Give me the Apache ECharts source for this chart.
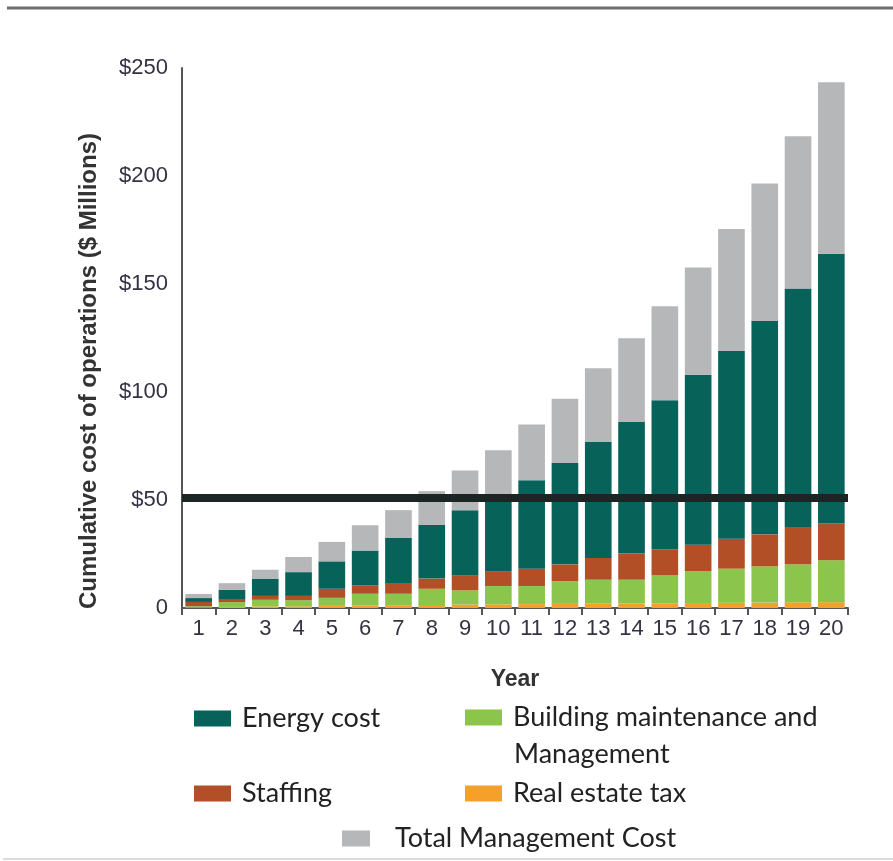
<!DOCTYPE html>
<html>
<head>
<meta charset="utf-8">
<title>Cumulative cost of operations</title>
<script src="https://cdn.jsdelivr.net/npm/echarts@6/dist/echarts.min.js"></script>
<style>
  html, body { margin: 0; padding: 0; background: #fff; }
  #chart { width: 893px; height: 861px; }
</style>
</head>
<body>
<div id="chart"></div>
<script>
const years = ['1', '2', '3', '4', '5', '6', '7', '8', '9', '10',
  '11', '12', '13', '14', '15', '16', '17', '18', '19', '20']

// $ millions, one stacked segment per year (bottom to top)
const realEstateTax = [0.3, 0.5, 0.7, 0.8, 1.0, 1.2, 1.3, 1.4, 1.6, 1.7,
  1.8, 1.9, 2.0, 2.1, 2.2, 2.3, 2.4, 2.5, 2.6, 2.7]
const maintenance = [0.5, 2.2, 3.1, 2.8, 3.7, 5.4, 5.3, 7.5, 6.6, 8.5,
  8.4, 10.5, 11.1, 11.0, 12.9, 14.8, 15.8, 16.8, 17.6, 19.4]
const staffing = [2.0, 1.1, 1.8, 2.0, 4.2, 3.8, 5.0, 4.7, 6.9, 6.9,
  8.0, 7.8, 10.1, 12.1, 12.1, 12.2, 13.9, 14.8, 17.0, 17.0]
const energyCost = [1.8, 4.6, 8.0, 11.0, 12.7, 16.2, 20.8, 24.9, 30.1, 33.4,
  40.9, 46.9, 53.7, 60.9, 69.0, 78.7, 86.9, 98.8, 110.7, 124.9]
const totalMgmt = [1.9, 3.1, 4.1, 7.0, 9.0, 11.7, 12.9, 15.6, 18.5, 22.5,
  25.8, 29.8, 34.1, 38.8, 43.5, 49.6, 56.5, 63.6, 70.5, 79.4]

const budgetLine = 51

const NAME_ENERGY = 'Energy cost'
const NAME_MAINT = 'Building maintenance and Management'
const NAME_STAFF = 'Staffing'
const NAME_TAX = 'Real estate tax'
const NAME_TOTAL = 'Total Management Cost'

const legendFont = 'Lato, "Open Sans", sans-serif'
const axisFont = '"Liberation Sans", Arial, sans-serif'

const legendItem = (name, left, top, width, gap) => ({
  data: [name],
  left,
  top,
  padding: 0,
  orient: 'horizontal',
  icon: 'rect',
  itemWidth: width || 37,
  itemHeight: 16,
  selectedMode: false,
  textStyle: {
    fontFamily: legendFont,
    fontSize: 27,
    color: '#222',
    padding: [0, 0, 0, gap || 6]
  }
})

const barSeries = (name, data, color) => ({
  name,
  type: 'bar',
  stack: 'cost',
  data,
  barWidth: '80%',
  itemStyle: { color },
  emphasis: { disabled: true }
})

const chart = echarts.init(document.getElementById('chart'))

// second line of this legend label is drawn as a graphic below
const maintLegend = legendItem(NAME_MAINT, 465, 704)
maintLegend.formatter = () => 'Building maintenance and'

chart.setOption({
  animation: false,
  grid: { left: 182, right: 45, top: 68, bottom: 253 },
  legend: [
    legendItem(NAME_ENERGY, 194, 705),
    maintLegend,
    legendItem(NAME_STAFF, 194, 780),
    legendItem(NAME_TAX, 465, 780),
    legendItem(NAME_TOTAL, 342, 825, 28, 20)
  ],
  graphic: [
    {
      type: 'line',
      shape: { x1: 7, y1: 8, x2: 893, y2: 8 },
      style: { stroke: '#6f6f6f', lineWidth: 3 }
    },
    {
      type: 'line',
      shape: { x1: 3, y1: 859, x2: 893, y2: 859 },
      style: { stroke: '#dcdcdc', lineWidth: 2 }
    },
    {
      type: 'text',
      left: 514,
      top: 741,
      style: {
        text: 'Management',
        font: '27px ' + legendFont,
        fill: '#222'
      }
    },
    {
      type: 'text',
      x: 89,
      y: 371,
      rotation: Math.PI / 2,
      style: {
        text: 'Cumulative cost of operations ($ Millions)',
        font: 'bold 24px ' + axisFont,
        fill: '#333',
        align: 'center',
        verticalAlign: 'middle'
      }
    }
  ],
  xAxis: {
    type: 'category',
    data: years,
    name: 'Year',
    nameLocation: 'middle',
    nameGap: 60,
    nameTextStyle: {
      fontFamily: axisFont,
      fontWeight: 'bold',
      fontSize: 23,
      color: '#333'
    },
    axisLine: { lineStyle: { color: '#555', width: 2 } },
    axisTick: { show: true, length: 7, lineStyle: { color: '#555', width: 2 } },
    axisLabel: {
      margin: 10,
      fontFamily: axisFont,
      fontSize: 22,
      color: '#333344',
      interval: 0
    }
  },
  yAxis: {
    type: 'value',
    min: 0,
    max: 250,
    interval: 50,
    axisLine: { show: true, lineStyle: { color: '#555', width: 2 } },
    axisTick: { show: false },
    splitLine: { show: false },
    axisLabel: {
      margin: 14,
      fontFamily: axisFont,
      fontSize: 22,
      color: '#333344',
      formatter: (v) => (v === 0 ? '0' : '$' + v)
    }
  },
  series: [
    barSeries(NAME_TAX, realEstateTax, '#f5a02a'),
    barSeries(NAME_MAINT, maintenance, '#8cc54b'),
    barSeries(NAME_STAFF, staffing, '#b34f27'),
    barSeries(NAME_ENERGY, energyCost, '#07625a'),
    Object.assign(barSeries(NAME_TOTAL, totalMgmt, '#b6b7b9'), {
      markLine: {
        silent: true,
        symbol: 'none',
        label: { show: false },
        lineStyle: { color: '#1b2523', width: 8, type: 'solid' },
        data: [{ yAxis: budgetLine }]
      }
    })
  ]
})
</script>
</body>
</html>
